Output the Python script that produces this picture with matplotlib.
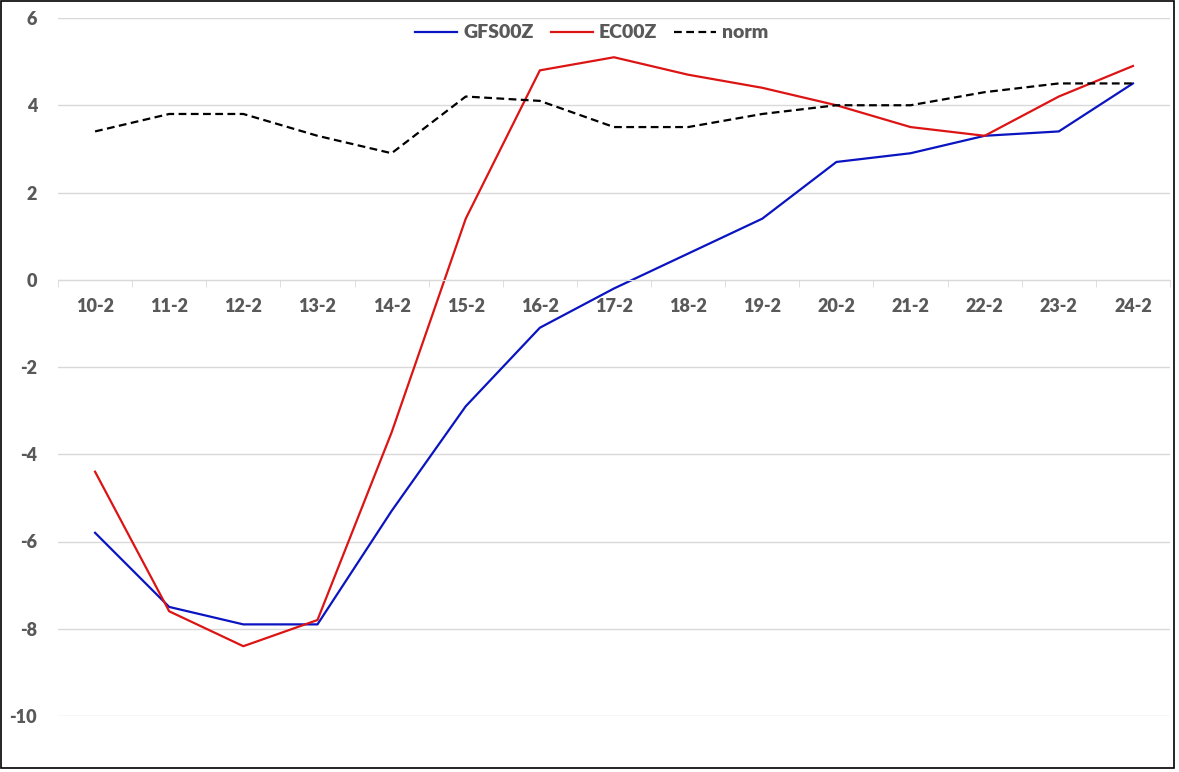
import numpy as np
import matplotlib.pyplot as plt
from matplotlib.patches import Rectangle

# ===============================
# Data
# ===============================
dates = ["10-2", "11-2", "12-2", "13-2", "14-2", "15-2", "16-2", "17-2",
         "18-2", "19-2", "20-2", "21-2", "22-2", "23-2", "24-2"]
gfs00z = [-5.8, -7.5, -7.9, -7.9, -5.3, -2.9, -1.1, -0.2, 0.6, 1.4, 2.7, 2.9, 3.3, 3.4, 4.5]
ec00z = [-4.4, -7.6, -8.4, -7.8, -3.5, 1.4, 4.8, 5.1, 4.7, 4.4, 4.0, 3.5, 3.3, 4.2, 4.9]
norm = [3.4, 3.8, 3.8, 3.3, 2.9, 4.2, 4.1, 3.5, 3.5, 3.8, 4.0, 4.0, 4.3, 4.5, 4.5]

text_col = "#595959"
plt.rcParams['font.family'] = ['Lato', 'DejaVu Sans']
plt.rcParams['font.weight'] = 'heavy'
plt.rcParams['axes.unicode_minus'] = False

fig = plt.figure(figsize=(11.79, 7.72), dpi=100)
ax = fig.add_axes([58 / 1179, 56 / 772, 1112 / 1179, 698 / 772])

x = np.arange(len(dates))
ax.plot(x, gfs00z, color="#0A14C0", lw=1.6, label="GFS00Z")
ax.plot(x, ec00z, color="#DC1414", lw=1.6, label="EC00Z")
ax.plot(x, norm, color="black", lw=1.6, ls=(0, (3.5, 2)), label="norm")

ax.set_xlim(-0.5, len(dates) - 0.5)
ax.set_ylim(-10, 6)
ax.set_yticks(np.arange(-10, 7, 2))
ax.yaxis.grid(True, color="#D9D9D9", lw=1)
ax.set_axisbelow(True)

# category axis crossing at zero
for s in ["left", "right", "top"]:
    ax.spines[s].set_visible(False)
ax.spines["bottom"].set_position(("data", 0))
ax.spines["bottom"].set_color("#D9D9D9")
ax.set_xticks(x)
ax.set_xticklabels(dates)
ax.set_xticks(np.arange(-0.5, len(dates), 1), minor=True)
ax.tick_params(axis="x", which="major", length=0, pad=13, labelsize=13, labelcolor=text_col)
ax.tick_params(axis="x", which="minor", length=5, color="#D9D9D9")
ax.tick_params(axis="y", length=0, pad=15, labelsize=13, labelcolor=text_col)

leg = ax.legend(loc="upper center", bbox_to_anchor=(0.48, 1.002), ncol=3, frameon=False,
                fontsize=14, handlelength=2.15, columnspacing=0.9, handletextpad=0.3,
                borderaxespad=0.0)
for t in leg.get_texts():
    t.set_color(text_col)

# chart border
fig.patches.append(Rectangle((1 / 1179, 4 / 772), 1173 / 1179, 767 / 772,
                             transform=fig.transFigure, fill=False, ec="black", lw=1.2))

fig.savefig("out.png", dpi=100)
